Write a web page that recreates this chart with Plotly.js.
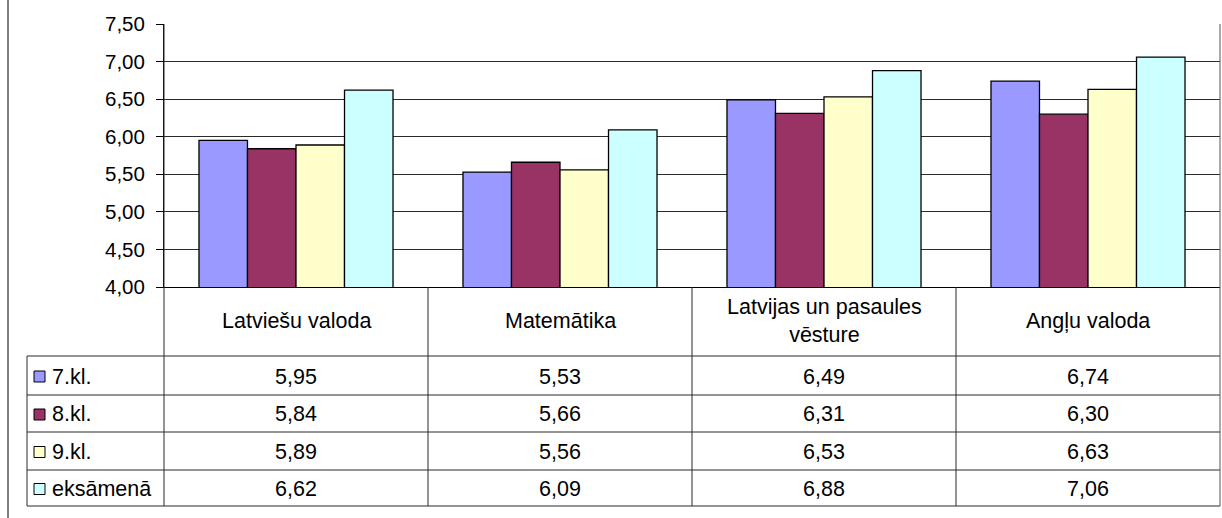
<!DOCTYPE html>
<html>
<head>
<meta charset="utf-8">
<script src="https://cdn.plot.ly/plotly-3.0.1.min.js"></script>
<style>html,body{margin:0;padding:0;background:#fff;}#chart{width:1222px;height:518px;}</style>
</head>
<body>
<div id="chart"></div>
<script>
// ---- data ----
const categories = ["Latviešu valoda", "Matemātika", "Latvijas un pasaules vēsture", "Angļu valoda"];
const headerLabels = ["Latviešu valoda", "Matemātika", "Latvijas un pasaules<br>vēsture", "Angļu valoda"];
const seriesNames = ["7.kl.", "8.kl.", "9.kl.", "eksāmenā"];
const values7 = [5.95, 5.53, 6.49, 6.74];
const values8 = [5.84, 5.66, 6.31, 6.30];
const values9 = [5.89, 5.56, 6.53, 6.63];
const valuesEks = [6.62, 6.09, 6.88, 7.06];
const seriesValues = [values7, values8, values9, valuesEks];
const colors = ["#9999FF", "#993366", "#FFFFCC", "#CCFFFF"];
const yTicks = [4.0, 4.5, 5.0, 5.5, 6.0, 6.5, 7.0, 7.5];

// ---- geometry (pixels) ----
const W = 1222, H = 518;
const L = 164, R = 1220, T = 24, B = 287;
const px = x => (x - L) / (R - L);
const py = y => (B - y) / (B - T);
const headerCenter = 321;
const rowLines = [356, 395, 432, 470, 506];
const tableLeft = 27;
const lineColor = "#2a2a2a";
const font = {family: "Liberation Sans, Arial, sans-serif", size: 20.5, color: "#000"};
const tableFont = {family: "Liberation Sans, Arial, sans-serif", size: 21.5, color: "#000"};

const fmt = v => v.toFixed(2).replace(".", ",");

const traces = seriesNames.map((name, i) => ({
  type: "bar",
  name: name,
  x: categories,
  y: seriesValues[i],
  marker: {color: colors[i], line: {color: "#000", width: 1.3}},
  hoverinfo: "skip"
}));

const shapes = [];
const annotations = [];
const line = (x0, y0, x1, y1, color) => shapes.push({
  type: "line", xref: "paper", yref: "paper",
  x0: px(x0), y0: py(y0), x1: px(x1), y1: py(y1),
  line: {color: color || lineColor, width: 1}
});

// outer chart border (left)
line(8, 0, 8, H, "#000");
// table horizontal lines
rowLines.forEach(y => line(tableLeft, y, R, y));
// table verticals
line(tableLeft, rowLines[0], tableLeft, rowLines[rowLines.length - 1]);
line(L, T, L, rowLines[rowLines.length - 1]);
line(R, T, R, rowLines[rowLines.length - 1], "#555");
const n = categories.length;
for (let i = 1; i < n; i++) {
  shapes.push({type: "line", xref: "paper", yref: "paper",
    x0: i / n, x1: i / n, y0: 0, y1: py(rowLines[rowLines.length - 1]),
    line: {color: lineColor, width: 1}});
}

// header labels
categories.forEach((c, i) => annotations.push({
  x: c, xref: "x", y: py(headerCenter), yref: "paper",
  text: headerLabels[i], showarrow: false, font: tableFont,
  xanchor: "center", yanchor: "middle", align: "center"
}));

// rows
seriesNames.forEach((name, s) => {
  const yc = (rowLines[s] + rowLines[s + 1]) / 2;
  // legend swatch
  shapes.push({type: "rect", xref: "paper", yref: "paper",
    x0: px(34), x1: px(45), y0: py(yc - 4.5), y1: py(yc + 6.5),
    fillcolor: colors[s], line: {color: "#000", width: 1}});
  annotations.push({
    x: px(50), xref: "paper", y: py(yc + 1), yref: "paper",
    text: name, showarrow: false, font: tableFont, xanchor: "left", yanchor: "middle"
  });
  categories.forEach((c, i) => annotations.push({
    x: c, xref: "x", y: py(yc + 1), yref: "paper",
    text: fmt(seriesValues[s][i]), showarrow: false, font: tableFont,
    xanchor: "center", yanchor: "middle"
  }));
});

const layout = {
  width: W, height: H,
  margin: {l: L, r: W - R, t: T, b: H - B, pad: 0},
  paper_bgcolor: "#fff", plot_bgcolor: "#fff",
  separators: ", ",
  font: font,
  showlegend: false,
  barmode: "group",
  bargap: 0.265,
  bargroupgap: 0,
  xaxis: {
    type: "category", showticklabels: false, ticks: "",
    showgrid: false, showline: true, linecolor: "#000", linewidth: 1,
    zeroline: false, fixedrange: true
  },
  yaxis: {
    range: [4, 7.5], tickvals: yTicks, ticktext: yTicks.map(fmt),
    ticks: "outside", ticklen: 7, tickcolor: "#000", tickwidth: 1,
    ticklabelstandoff: 7,
    showgrid: true, gridcolor: lineColor, gridwidth: 1,
    showline: true, linecolor: "#000", zeroline: false,
    tickfont: font, fixedrange: true
  },
  shapes: shapes,
  annotations: annotations
};

Plotly.newPlot("chart", traces, layout, {displayModeBar: false, staticPlot: true});
</script>
</body>
</html>
